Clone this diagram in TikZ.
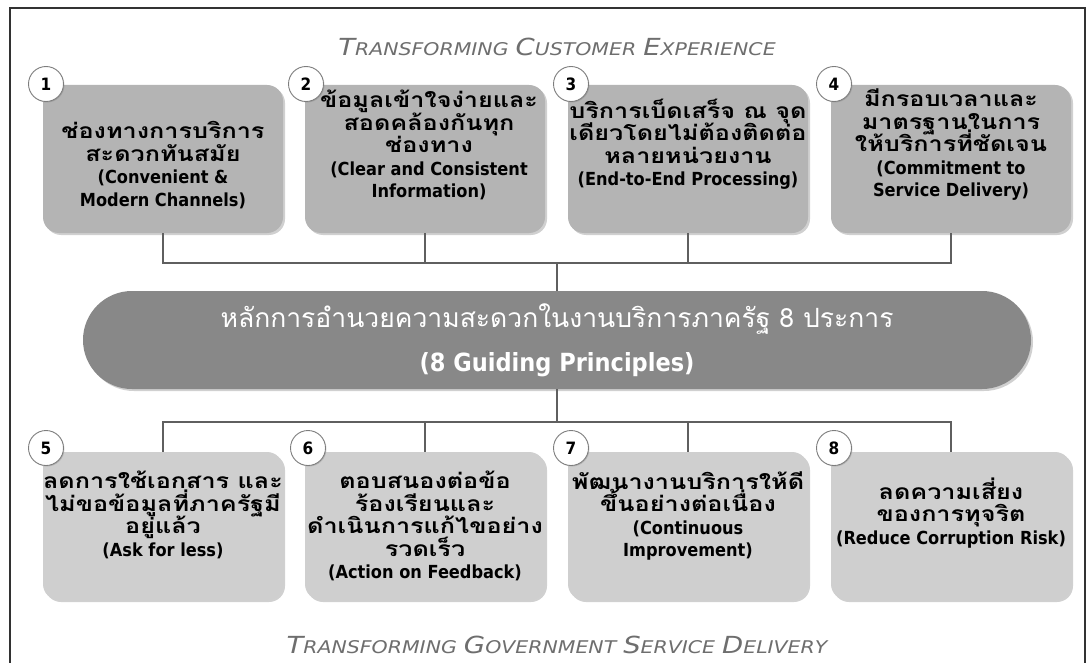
\documentclass[tikz,border=0pt]{standalone}
\usepackage{fontspec}
\setmainfont{DejaVu Sans}
\newfontfamily\thaifont[Script=Thai]{Loma}
\newfontfamily\thaiwide[Script=Thai,FakeStretch=1.2]{Loma}
\newfontfamily\engfont[FakeStretch=0.9]{DejaVu Sans}
\newfontfamily\ttlfont[FakeStretch=1.17]{DejaVu Sans}
\usetikzlibrary{shadows}
\definecolor{boxdark}{RGB}{180,180,180}
\definecolor{boxlight}{RGB}{207,207,207}
\definecolor{pillgray}{RGB}{136,136,136}
\definecolor{conngray}{RGB}{95,95,95}
\definecolor{framegray}{RGB}{50,50,50}
\definecolor{titlegray}{RGB}{110,110,110}
\definecolor{circgray}{RGB}{125,125,125}
\newcommand\scw[2]{{\fontsize{23.5}{24}\selectfont #1}{\fontsize{17.5}{24}\selectfont #2}}
\newcommand\enl[1]{{\engfont\bfseries\fontsize{18}{22.5}\selectfont #1}}
\newcommand\tightlines{\lineskiplimit=-40pt\relax\lineskip=0pt\relax}
\newcommand\boxfont{\thaiwide\bfseries\fontsize{21}{22.5}\selectfont\tightlines}
\newcommand\pillfont{\thaifont\fontsize{26.5}{44}\selectfont\tightlines}
\tikzset{
  boxbase/.style={rounded corners=16pt, minimum width=240pt, minimum height=148pt,
    inner sep=0pt, drop shadow={shadow xshift=2pt, shadow yshift=-2pt, opacity=0.3, fill=black!60}},
  topbox/.style={boxbase, fill=boxdark},
  botbox/.style={boxbase, fill=boxlight},
  boxtext/.style={align=center, inner sep=0pt, text=black, font=\boxfont},
  numcirc/.style={circle, fill=white, draw=circgray, line width=0.9pt, minimum size=35pt,
    inner sep=0pt, font=\engfont\bfseries\fontsize{17}{17}\selectfont,
    drop shadow={shadow xshift=1pt, shadow yshift=-1pt, opacity=0.25, fill=black!60}},
  conn/.style={draw=conngray, line width=1.5pt},
  pill/.style={rounded corners=49pt, minimum width=948pt, minimum height=98pt, inner sep=0pt,
    fill=pillgray, text=white, align=center, font=\pillfont,
    drop shadow={shadow xshift=2pt, shadow yshift=-2pt, opacity=0.3, fill=black!60}},
  titletext/.style={inner sep=0pt, text=titlegray, font=\ttlfont\itshape}
}
\begin{document}
\begin{tikzpicture}[x=1pt,y=-1pt]
\useasboundingbox (0,0) rectangle (1091,663);
\fill[white] (0,0) rectangle (1091,663);
\draw[framegray, line width=1.8pt] (10,8) rectangle (1085,700);

\node[titletext] (ttop) at (557,47) {\scw{T}{RANSFORMING}\hspace{7pt}\scw{C}{USTOMER}\hspace{7pt}\scw{E}{XPERIENCE}};
\node[titletext] (tbot) at (557,645) {\scw{T}{RANSFORMING}\hspace{7pt}\scw{G}{OVERNMENT}\hspace{7pt}\scw{S}{ERVICE}\hspace{7pt}\scw{D}{ELIVERY}};

% top boxes
\node[topbox] (b1) at (163,159) {};
\node[topbox] (b2) at (425,159) {};
\node[topbox] (b3) at (688,159) {};
\node[topbox] (b4) at (951,159) {};
% bottom boxes
\node[botbox] (b5) at (163,526) {};
\node[botbox] (b6) at (425,526) {};
\node[botbox] (b7) at (688,526) {};
\node[botbox] (b8) at (951,526) {};

% centre pill
\node[pill] (pl) at (557,340) {หลักการอำนวยความสะดวกในงานบริการภาครัฐ 8 ประการ\\{\engfont\bfseries\fontsize{25}{44}\selectfont (8 Guiding Principles)}};

% connectors
\coordinate (jt) at (557,263);
\coordinate (jb) at (557,422);
\draw[conn] (b1.south) |- (jt) -| (b4.south);
\draw[conn] (b2.south) -- (b2.south |- jt);
\draw[conn] (b3.south) -- (b3.south |- jt);
\draw[conn] (jt) -- (pl.north);
\draw[conn] (pl.south) -- (jb);
\draw[conn] (b5.north) |- (jb) -| (b8.north);
\draw[conn] (b6.north) -- (b6.north |- jb);
\draw[conn] (b7.north) -- (b7.north |- jb);

% texts
\node[boxtext] (t1) at (163,165) {ช่องทางการบริการ\\สะดวกทันสมัย\\\enl{(Convenient \&}\\\enl{Modern Channels)}};
\node[boxtext] (t2) at (429,145) {ข้อมูลเข้าใจง่ายและ\\สอดคล้องกันทุก\\ช่องทาง\\\enl{(Clear and Consistent}\\\enl{Information)}};
\node[boxtext] (t3) at (688,144) {บริการเบ็ดเสร็จ ณ จุด\\เดียวโดยไม่ต้องติดต่อ\\หลายหน่วยงาน\\\enl{(End-to-End Processing)}};
\node[boxtext] (t4) at (951,145) {มีกรอบเวลาและ\\มาตรฐานในการ\\ให้บริการที่ชัดเจน\\\enl{(Commitment to}\\\enl{Service Delivery)}};
\node[boxtext] (t5) at (163,515) {ลดการใช้เอกสาร และ\\ไม่ขอข้อมูลที่ภาครัฐมี\\อยู่แล้ว\\\enl{(Ask for less)}};
\node[boxtext] (t6) at (425,526) {ตอบสนองต่อข้อ\\ร้องเรียนและ\\ดำเนินการแก้ไขอย่าง\\รวดเร็ว\\\enl{(Action on Feedback)}};
\node[boxtext] (t7) at (688,516) {พัฒนางานบริการให้ดี\\ขึ้นอย่างต่อเนื่อง\\\enl{(Continuous}\\\enl{Improvement)}};
\node[boxtext] (t8) at (951,513) {ลดความเสี่ยง\\ของการทุจริต\\\enl{(Reduce Corruption Risk)}};

% number circles
\node[numcirc] (c1) at (46,84) {1};
\node[numcirc] (c2) at (306,84) {2};
\node[numcirc] (c3) at (571,84) {3};
\node[numcirc] (c4) at (834,84) {4};
\node[numcirc] (c5) at (46,448) {5};
\node[numcirc] (c6) at (308,448) {6};
\node[numcirc] (c7) at (571,448) {7};
\node[numcirc] (c8) at (834,448) {8};
\end{tikzpicture}
\end{document}
